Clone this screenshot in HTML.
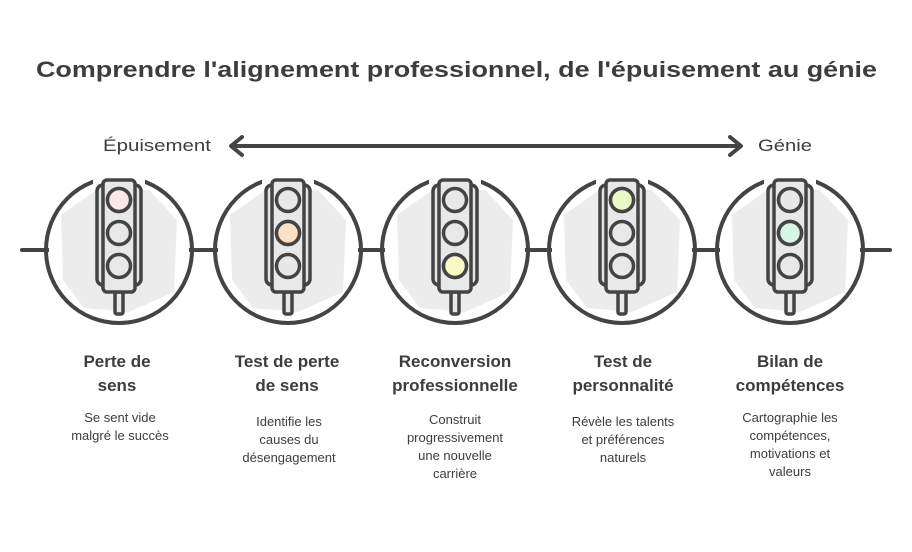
<!DOCTYPE html>
<html><head><meta charset="utf-8"><style>
body{margin:0;background:#fff}
svg{display:block}
text{font-family:"Liberation Sans",sans-serif;fill:#3d3d3d}
.h{font-weight:bold;font-size:17px;text-anchor:middle}
.d{font-size:13px;text-anchor:middle}
</style></head><body>
<svg width="912" height="552" viewBox="0 0 912 552">
<defs>
<g id="base">
<rect x="-70" y="212" width="140" height="80" fill="#fff"/>
<polygon points="-58,215 -20,188 30,190 58,220 55,292 10,312 -35,308 -56,280" fill="#ececec"/>
<circle cx="0" cy="250" r="73" fill="none" stroke="#444" stroke-width="4"/>
<rect x="-26" y="172" width="52" height="18" fill="#fff"/>
<rect x="-4" y="292" width="8" height="22" rx="2" fill="#e8e8e8" stroke="#444" stroke-width="3.5"/>
<rect x="-22" y="185" width="44" height="100" rx="6" fill="#e4e4e4" stroke="#444" stroke-width="3.5"/>
<rect x="-16" y="180" width="32" height="112" rx="4" fill="#e8e8e8" stroke="#444" stroke-width="3.5"/>
<circle cx="0" cy="200" r="11.5" fill="#e8e8e8" stroke="#444" stroke-width="3.5"/>
<circle cx="0" cy="233" r="11.5" fill="#e8e8e8" stroke="#444" stroke-width="3.5"/>
<circle cx="0" cy="266" r="11.5" fill="#e8e8e8" stroke="#444" stroke-width="3.5"/>
</g>
</defs>
<text x="36" y="77" font-size="22" font-weight="bold" textLength="841" lengthAdjust="spacingAndGlyphs">Comprendre l'alignement professionnel, de l'épuisement au génie</text>
<text x="103" y="151" font-size="17" textLength="108" lengthAdjust="spacingAndGlyphs">Épuisement</text>
<text x="758" y="151" font-size="17" textLength="54" lengthAdjust="spacingAndGlyphs">Génie</text>
<g stroke="#444" stroke-width="4" fill="none" stroke-linecap="round" stroke-linejoin="round">
<line x1="232" y1="146" x2="740" y2="146"/>
<polyline points="242,137 231,146 242,155"/>
<polyline points="730,137 741,146 730,155"/>
<line x1="22" y1="250" x2="890" y2="250"/>
</g>
<use href="#base" x="119"/>
<use href="#base" x="288"/>
<use href="#base" x="455"/>
<use href="#base" x="622"/>
<use href="#base" x="790"/>
<g stroke="#444" stroke-width="3.5">
<circle cx="119" cy="200" r="11.5" fill="#fde8e8"/>
<circle cx="288" cy="233" r="11.5" fill="#fde0c6"/>
<circle cx="455" cy="266" r="11.5" fill="#fafac6"/>
<circle cx="622" cy="200" r="11.5" fill="#eefac6"/>
<circle cx="790" cy="233" r="11.5" fill="#d6f5e3"/>
</g>
<text class="h" x="117" y="367">Perte de</text><text class="h" x="117" y="391">sens</text>
<text class="d" x="120" y="422">Se sent vide</text><text class="d" x="120" y="440">malgré le succès</text>
<text class="h" x="287" y="367">Test de perte</text><text class="h" x="287" y="391">de sens</text>
<text class="d" x="289" y="426">Identifie les</text><text class="d" x="289" y="444">causes du</text><text class="d" x="289" y="462">désengagement</text>
<text class="h" x="455" y="367">Reconversion</text><text class="h" x="455" y="391">professionnelle</text>
<text class="d" x="455" y="424">Construit</text><text class="d" x="455" y="442">progressivement</text><text class="d" x="455" y="460">une nouvelle</text><text class="d" x="455" y="478">carrière</text>
<text class="h" x="623" y="367">Test de</text><text class="h" x="623" y="391">personnalité</text>
<text class="d" x="623" y="426">Révèle les talents</text><text class="d" x="623" y="444">et préférences</text><text class="d" x="623" y="462">naturels</text>
<text class="h" x="790" y="367">Bilan de</text><text class="h" x="790" y="391">compétences</text>
<text class="d" x="790" y="422">Cartographie les</text><text class="d" x="790" y="440">compétences,</text><text class="d" x="790" y="458">motivations et</text><text class="d" x="790" y="476">valeurs</text>
</svg>
</body></html>
